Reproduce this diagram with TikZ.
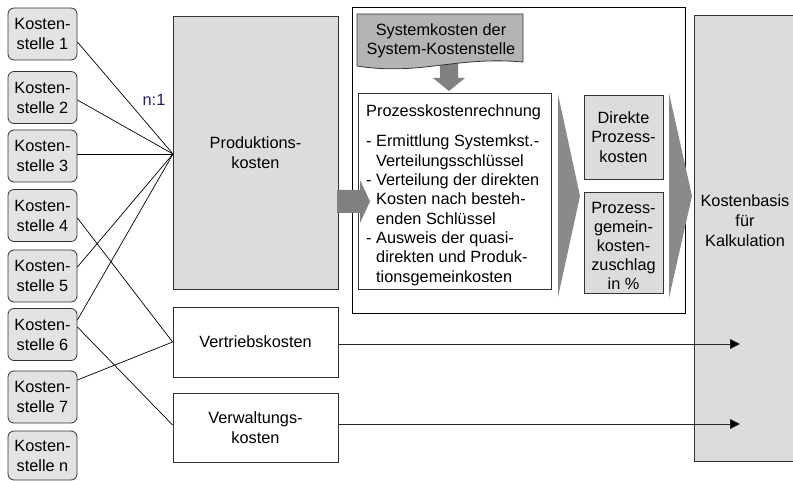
\documentclass[tikz,border=0pt]{standalone}
\usepackage{fontspec}
\setmainfont{Liberation Sans}
\usetikzlibrary{arrows.meta}
\definecolor{boxgray}{HTML}{DCDCDC}
\definecolor{kstgray}{HTML}{E3E3E3}
\definecolor{docgray}{HTML}{B4B4B4}
\definecolor{arrgray}{HTML}{808080}
\definecolor{chevgray}{HTML}{8A8A8A}
\definecolor{edge}{HTML}{333333}
\definecolor{navyone}{HTML}{1E1E78}
\begin{document}
\begin{tikzpicture}[x=1pt,y=-1pt,
  every node/.style={font=\fontsize{16.3}{20}\selectfont, inner sep=0pt},
  kst/.style={draw=edge, fill=kstgray, rounded corners=6pt, minimum width=69pt, minimum height=52pt, align=center, line width=0.8pt},
  gbox/.style={draw=edge, fill=boxgray, align=center, line width=0.8pt},
  wbox/.style={draw=edge, fill=white, align=center, line width=0.8pt},
  conn/.style={draw=black, line width=0.7pt},
  pline/.style={anchor=base west},
  garrow/.style={fill=arrgray, draw=none},
  chev/.style={fill=chevgray, draw=none},
  flow/.style={draw=black!85, line width=0.8pt, -{Triangle[length=10pt,width=10pt,fill=black]}}
]
\useasboundingbox (0,0) rectangle (793,481);

% Kostenbasis (background right)
\node[gbox, minimum width=100pt, minimum height=446pt] (kb) at (744,238) {};
\node[align=center] (kbt) at (745,221) {Kostenbasis\\für\\Kalkulation};

% Kostenstellen
\node[kst] (k1) at (42.5,34) {Kosten-\\stelle 1};
\node[kst] (k2) at (42.5,97.5) {Kosten-\\stelle 2};
\node[kst] (k3) at (42.5,156) {Kosten-\\stelle 3};
\node[kst] (k4) at (42.5,215.5) {Kosten-\\stelle 4};
\node[kst] (k5) at (42.5,276) {Kosten-\\stelle 5};
\node[kst] (k6) at (42.5,334.5) {Kosten-\\stelle 6};
\node[kst] (k7) at (42.5,397) {Kosten-\\stelle 7};
\node[kst, minimum height=49pt] (kn) at (42.5,455.5) {Kosten-\\stelle n};

% cost type boxes
\node[gbox, minimum width=165pt, minimum height=273pt] (prod) at (255.5,152.5) {Produktions-\\kosten};
\node[wbox, minimum width=165pt, minimum height=70pt] (vert) at (255.5,342) {Vertriebskosten};
\node[wbox, minimum width=165pt, minimum height=69pt] (verw) at (255.5,427.5) {Verwaltungs-\\kosten};

\coordinate (pj) at (173,154);
\node[text=navyone] (n1) at (154,100) {n:1};

% connectors
\draw[conn] ([yshift=-8pt]k1.east) -- (pj);
\draw[conn] ([yshift=-2.5pt]k2.east) -- (pj);
\draw[conn] ([yshift=2pt]k3.east) -- (pj);
\draw[conn] ([yshift=9pt]k5.east) -- (pj);
\draw[conn] ([yshift=14.5pt]k6.east) -- (pj);
\draw[conn] ([yshift=-2.5pt]k4.east) -- (vert.west);
\draw[conn] ([yshift=17pt]k7.east) -- (vert.west);
\draw[conn] ([yshift=7.5pt]k6.east) -- ([yshift=2.5pt]verw.west);

% frame
\node[draw=black, line width=0.8pt, minimum width=333pt, minimum height=306pt] (frame) at (518.5,160) {};

% down arrow and document shape
\fill[garrow] (440,60) -- (458,60) -- (458,78) -- (465,78) -- (449,91) -- (433,78) -- (440,78) -- cycle;
\filldraw[fill=docgray, draw=edge, line width=0.8pt] (357,14) -- (523,14) -- (523,62)
  .. controls (455,56) and (420,76) .. (357,66) -- cycle;
\node[align=center, font=\fontsize{16.3}{18.5}\selectfont] (sys) at (441,41) {Systemkosten der\\System-Kostenstelle};

% Prozesskostenrechnung box
\node[wbox, minimum width=193pt, minimum height=196pt] (pkr) at (454.5,191) {};
\node[pline] (pt1) at (366,117) {Prozesskostenrechnung};
\node[pline] (pt2) at (366,147) {- Ermittlung Systemkst.-};
\node[pline] (pt3) at (376,166.3) {Verteilungsschlüssel};
\node[pline] (pt4) at (366,185.6) {- Verteilung der direkten};
\node[pline] (pt5) at (376,204.9) {Kosten nach besteh-};
\node[pline] (pt6) at (376,224.2) {enden Schlüssel};
\node[pline] (pt7) at (366,243.5) {- Ausweis der quasi-};
\node[pline] (pt8) at (376,262.8) {direkten und Produk-};
\node[pline] (pt9) at (376,282.1) {tionsgemeinkosten};

% big right arrow
\fill[garrow] (337,190) -- (360,190) -- (360,180) -- (370,201.5) -- (360,223) -- (360,213) -- (337,213) -- cycle;

% chevrons
\fill[chev] (558,94) -- (580,196) -- (558,297) -- cycle;
\fill[chev] (669,93) -- (692,196) -- (669,298) -- cycle;

% result boxes
\node[gbox, minimum width=79pt, minimum height=84pt, font=\fontsize{16.3}{19.5}\selectfont] (dir) at (623.5,137) {Direkte\\Prozess-\\kosten};
\node[gbox, minimum width=79pt, minimum height=101pt] (pgk) at (623.5,242.5) {};
\node[align=center, font=\fontsize{16.3}{19}\selectfont] (pgkt) at (623.5,246) {Prozess-\\gemein-\\kosten-\\zuschlag\\in \%};

% flows to Kostenbasis
\coordinate (e1) at (740,344);
\coordinate (e2) at (740,424);
\draw[flow] (vert.east |- e1) -- (e1);
\draw[flow] (verw.east |- e2) -- (e2);
\end{tikzpicture}
\end{document}
